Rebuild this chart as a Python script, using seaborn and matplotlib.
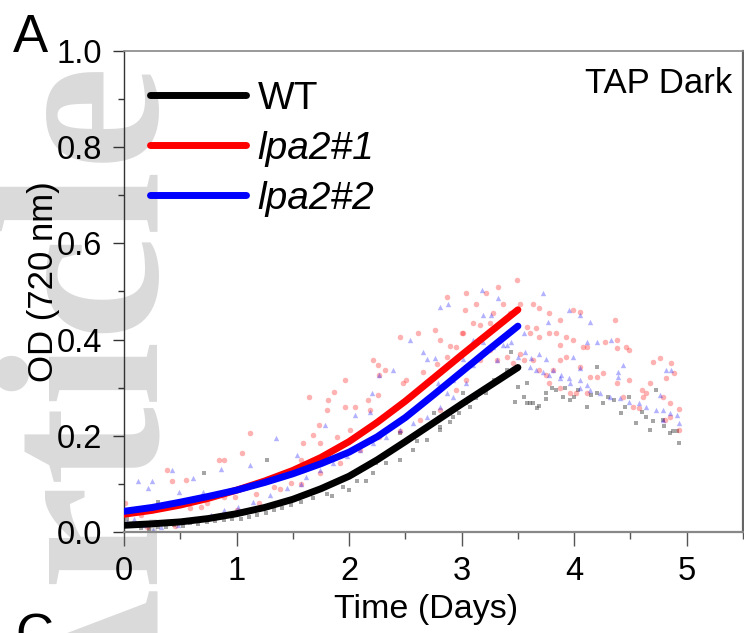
import numpy as np
import pandas as pd
import matplotlib
matplotlib.use("Agg")
import matplotlib.pyplot as plt
from matplotlib.ticker import MultipleLocator, FormatStrFormatter
import seaborn as sns

# ---------------- data ----------------
strains = ["WT", "lpa2#1", "lpa2#2"]
line_colors = ["#000000", "#ff0000", "#0000ff"]

fit_days = [0.0, 0.25, 0.5, 0.75, 1.0, 1.25, 1.5, 1.75, 2.0, 2.25, 2.5, 2.75, 3.0, 3.25, 3.5]
fit_wt = [0.014, 0.017, 0.021, 0.028, 0.038, 0.051, 0.068, 0.090, 0.116, 0.150, 0.188, 0.227, 0.266, 0.304, 0.342]
fit_lpa1 = [0.037, 0.045, 0.056, 0.070, 0.087, 0.106, 0.128, 0.155, 0.188, 0.228, 0.272, 0.320, 0.368, 0.415, 0.462]
fit_lpa2 = [0.043, 0.051, 0.062, 0.074, 0.087, 0.103, 0.121, 0.142, 0.166, 0.198, 0.238, 0.285, 0.333, 0.381, 0.428]

wt_x = [0.03, 0.09, 0.15, 0.22, 0.30, 0.37, 0.44, 0.52, 0.59, 0.66, 0.74, 0.81, 0.89, 0.96, 1.04, 1.11,
        1.18, 1.26, 1.33, 1.40, 1.48, 1.57, 1.68, 1.80, 1.95, 2.07, 2.21, 2.33, 2.45, 2.57, 2.69, 2.81,
        2.92, 3.04, 0.02, 0.30, 0.71, 1.27, 1.85, 2.00, 2.15, 2.24, 2.45, 2.60, 2.75, 2.81, 2.90, 2.98,
        3.01, 3.07, 3.13, 3.22, 3.29, 3.40, 3.44, 3.47, 3.50, 3.55, 3.58, 3.58, 3.61, 3.63, 3.67, 3.69,
        3.75, 3.75, 3.84, 3.90, 3.96, 4.03, 4.11, 4.20, 4.20, 4.26, 4.35, 4.42, 4.49, 4.55, 4.64, 4.67,
        4.73, 4.79, 4.85, 4.91, 4.93, 3.80, 3.92, 4.00, 4.15, 4.30, 4.45, 4.60, 4.70, 4.80, 4.88]
wt_y = [0.026, 0.012, 0.008, 0.006, 0.011, 0.010, 0.014, 0.013, 0.018, 0.017, 0.021, 0.022, 0.025, 0.027, 0.028, 0.032,
        0.035, 0.040, 0.046, 0.050, 0.056, 0.063, 0.070, 0.080, 0.094, 0.105, 0.122, 0.143, 0.150, 0.170, 0.191, 0.212,
        0.240, 0.268, 0.045, 0.063, 0.122, 0.150, 0.075, 0.088, 0.105, 0.143, 0.205, 0.190, 0.247, 0.219, 0.229, 0.247,
        0.288, 0.260, 0.278, 0.288, 0.316, 0.337, 0.375, 0.271, 0.302, 0.280, 0.309, 0.268, 0.268, 0.268, 0.257, 0.262,
        0.288, 0.276, 0.295, 0.281, 0.274, 0.295, 0.260, 0.288, 0.344, 0.268, 0.274, 0.247, 0.281, 0.226, 0.240, 0.212,
        0.295, 0.233, 0.205, 0.209, 0.186, 0.300, 0.300, 0.280, 0.285, 0.280, 0.260, 0.250, 0.230, 0.220, 0.210]

l1_x = [0.01, 0.05, 0.15, 0.30, 0.38, 0.43, 0.55, 0.59, 0.68, 0.74, 0.84, 0.89, 0.89, 0.99, 1.05, 1.12,
        1.17, 1.33, 1.39, 1.48, 1.57, 1.57, 0.20, 0.45, 0.80, 1.00, 1.20,
        1.59, 1.68, 1.73, 1.80, 1.87, 1.96, 1.64, 1.81, 1.96, 2.05, 2.17, 2.26, 2.19, 2.21, 2.26, 2.32,
        2.27, 2.45, 2.61, 2.76, 3.01, 2.48, 2.51, 2.66, 2.78, 2.87, 2.95, 1.74, 1.89, 2.01, 1.59, 1.74,
        1.92, 2.10, 2.27, 2.45, 2.63, 2.81, 2.95, 3.04,
        2.87, 3.04, 3.22, 3.32, 3.49, 3.03, 3.13, 3.37, 3.43, 3.52, 3.63, 3.69, 3.78, 3.87, 3.99, 4.05,
        2.81, 2.90, 3.00, 3.10, 3.16, 3.25, 3.28, 3.58, 3.61, 3.66, 3.69, 3.78, 3.84, 3.87, 3.93, 3.99,
        4.08, 4.11, 3.52, 3.55, 3.63, 3.69, 3.75, 3.81, 3.87, 3.93, 4.05, 3.25, 3.16, 3.31, 3.40, 3.46,
        4.36, 4.27, 4.38, 4.46, 4.38, 4.49, 4.14, 4.20, 4.26, 4.38, 4.49, 4.60, 4.67, 4.70, 4.76, 4.82,
        4.86, 4.89, 4.79, 4.85, 4.93, 4.93, 4.85, 4.81, 4.61, 4.52, 4.43, 4.58, 4.64, 4.11, 4.02, 3.96,
        3.87, 3.78]
l1_y = [0.060, 0.040, 0.035, 0.050, 0.129, 0.105, 0.108, 0.049, 0.053, 0.060, 0.150, 0.150, 0.073, 0.073, 0.164, 0.205,
        0.080, 0.094, 0.090, 0.101, 0.150, 0.100, 0.010, 0.012, 0.030, 0.045, 0.060,
        0.184, 0.202, 0.222, 0.254, 0.292, 0.316, 0.281, 0.274, 0.260, 0.260, 0.274, 0.285, 0.254, 0.358, 0.347, 0.337,
        0.326, 0.406, 0.413, 0.420, 0.413, 0.309, 0.316, 0.333, 0.350, 0.364, 0.385, 0.184, 0.198, 0.212, 0.129, 0.122,
        0.143, 0.170, 0.198, 0.210, 0.233, 0.254, 0.295, 0.316,
        0.489, 0.496, 0.496, 0.510, 0.524, 0.462, 0.475, 0.475, 0.455, 0.475, 0.475, 0.465, 0.455, 0.441, 0.462, 0.458,
        0.400, 0.386, 0.413, 0.434, 0.430, 0.434, 0.455, 0.427, 0.413, 0.425, 0.406, 0.413, 0.413, 0.389, 0.406, 0.400,
        0.385, 0.385, 0.371, 0.357, 0.357, 0.337, 0.327, 0.337, 0.357, 0.364, 0.344, 0.378, 0.357, 0.357, 0.364, 0.352,
        0.441, 0.396, 0.400, 0.385, 0.382, 0.378, 0.323, 0.323, 0.330, 0.309, 0.316, 0.295, 0.309, 0.354, 0.361, 0.320,
        0.351, 0.330, 0.281, 0.268, 0.255, 0.212, 0.240, 0.233, 0.281, 0.260, 0.281, 0.257, 0.290, 0.288, 0.290, 0.288,
        0.300, 0.310]

l2_x = [0.12, 0.25, 0.21, 0.43, 0.49, 0.61, 0.70, 0.86, 1.12, 1.35, 1.54, 0.09, 0.18, 0.33, 0.48, 0.62,
        0.77, 0.89, 1.01, 1.15, 1.30, 1.45, 1.57, 0.03, 0.26, 0.40, 0.55, 0.70,
        1.62, 1.74, 1.86, 1.98, 2.10, 2.21, 2.33, 2.45, 2.57, 2.69, 2.81, 2.92, 3.04, 1.79, 2.05, 2.20,
        2.19, 2.39, 2.27, 2.54, 2.66, 2.69, 2.76, 2.79, 2.87,
        2.88, 3.18, 3.32, 3.19, 3.26, 2.81, 3.72, 3.95, 4.05, 3.77, 3.55, 3.10, 3.19, 3.44, 3.37, 3.01,
        3.31, 3.50, 3.56, 3.62, 3.69, 3.75, 3.81, 3.88, 3.99, 4.05, 3.61, 3.66, 3.72, 3.78, 3.87, 3.95,
        4.05, 4.11, 2.92, 3.10, 3.28, 3.40,
        4.14, 4.11, 4.20, 4.33, 4.43, 4.39, 4.39, 4.82, 4.86, 3.96, 4.05, 4.14, 4.23, 4.32, 4.41, 4.49,
        4.58, 4.64, 4.73, 4.79, 4.85, 4.91, 4.93, 4.79, 4.76]
l2_y = [0.105, 0.105, 0.091, 0.129, 0.084, 0.112, 0.084, 0.132, 0.139, 0.195, 0.160, 0.028, 0.015, 0.011, 0.015, 0.028,
        0.035, 0.046, 0.053, 0.063, 0.077, 0.091, 0.100, 0.020, 0.005, 0.020, 0.022, 0.030,
        0.115, 0.129, 0.143, 0.157, 0.170, 0.184, 0.198, 0.212, 0.226, 0.240, 0.260, 0.281, 0.309, 0.222, 0.243, 0.288,
        0.250, 0.337, 0.326, 0.400, 0.375, 0.360, 0.361, 0.309, 0.290,
        0.475, 0.503, 0.486, 0.451, 0.451, 0.468, 0.496, 0.462, 0.451, 0.437, 0.413, 0.400, 0.396, 0.396, 0.389, 0.360,
        0.357, 0.364, 0.375, 0.361, 0.371, 0.360, 0.337, 0.327, 0.364, 0.340, 0.344, 0.337, 0.333, 0.327, 0.320, 0.320,
        0.316, 0.306, 0.316, 0.347, 0.385, 0.389,
        0.437, 0.396, 0.395, 0.400, 0.347, 0.333, 0.323, 0.337, 0.337, 0.309, 0.300, 0.295, 0.288, 0.281, 0.278, 0.271,
        0.268, 0.260, 0.253, 0.253, 0.247, 0.243, 0.226, 0.233, 0.285]

x_ticks = [0, 1, 2, 3, 4, 5]
y_ticks = [0.0, 0.2, 0.4, 0.6, 0.8, 1.0]

# ---------------- tables ----------------
fit_df = pd.concat([
    pd.DataFrame({"Day": fit_days, "OD": fit_wt, "Strain": strains[0]}),
    pd.DataFrame({"Day": fit_days, "OD": fit_lpa1, "Strain": strains[1]}),
    pd.DataFrame({"Day": fit_days, "OD": fit_lpa2, "Strain": strains[2]}),
], ignore_index=True)
wt_df = pd.DataFrame({"Day": wt_x, "OD": wt_y})
l1_df = pd.DataFrame({"Day": l1_x, "OD": l1_y})
l2_df = pd.DataFrame({"Day": l2_x, "OD": l2_y})

# ---------------- style ----------------
sns.set_style("ticks")
plt.rcParams["font.family"] = ["Liberation Sans", "DejaVu Sans"]
plt.rcParams["text.color"] = "black"
plt.rcParams["axes.labelcolor"] = "black"
plt.rcParams["xtick.labelcolor"] = "black"
plt.rcParams["ytick.labelcolor"] = "black"

W, H = 744, 633
fig = plt.figure(figsize=(W / 100, H / 100), dpi=100)
fig.patch.set_facecolor("white")

def fx(px):
    return px / W

def fy(py):
    return (H - py) / H

# watermark behind everything
fig.text(fx(-8), fy(62), "Article", rotation=90, rotation_mode="anchor",
         ha="right", va="top", fontsize=170, fontweight="bold", color="#dadada",
         family=["Liberation Serif", "DejaVu Serif"], zorder=-5)

ax = fig.add_axes([fx(124), fy(532), (743 - 124) / W, (532 - 51) / H])
ax.patch.set_alpha(0)
ax.set_zorder(1)

sns.scatterplot(data=wt_df, x="Day", y="OD", ax=ax, marker="s", color="#4d4d4d",
                alpha=0.5, s=9, linewidth=0, legend=False, zorder=2)
sns.scatterplot(data=l1_df, x="Day", y="OD", ax=ax, marker="o", color="#ff0000",
                alpha=0.3, s=16, linewidth=0, legend=False, zorder=2)
sns.scatterplot(data=l2_df, x="Day", y="OD", ax=ax, marker="^", color="#0000ff",
                alpha=0.3, s=15, linewidth=0, legend=False, zorder=2)
sns.lineplot(data=fit_df, x="Day", y="OD", hue="Strain", hue_order=strains,
             palette=dict(zip(strains, line_colors)), linewidth=5.0, ax=ax,
             zorder=3, solid_capstyle="round", solid_joinstyle="round")

ax.set_xlim(0, 5.5)
ax.set_ylim(0, 1.0)
ax.set_xticks(x_ticks)
ax.set_yticks(y_ticks)
ax.xaxis.set_minor_locator(MultipleLocator(0.5))
ax.yaxis.set_minor_locator(MultipleLocator(0.1))
ax.yaxis.set_major_formatter(FormatStrFormatter("%.1f"))

ax.tick_params(axis="both", which="major", labelsize=23.5, direction="out", labelcolor="black")
ax.tick_params(axis="y", which="major", length=8, width=1, pad=8, color="#333333")
ax.tick_params(axis="y", which="minor", length=4.5, width=1, color="#333333")
ax.tick_params(axis="x", which="major", length=10, width=1, pad=7, color="#555555")
ax.tick_params(axis="x", which="minor", length=5, width=1, color="#555555")

for side in ["top", "right", "bottom", "left"]:
    ax.spines[side].set_visible(True)
ax.spines["left"].set_color("#333333")
ax.spines["left"].set_linewidth(1.0)
ax.spines["bottom"].set_color("#888888")
ax.spines["bottom"].set_linewidth(1.6)
ax.spines["top"].set_color("#888888")
ax.spines["top"].set_linewidth(1.2)
ax.spines["right"].set_color("#666666")
ax.spines["right"].set_linewidth(1.6)

ax.set_xlabel("Time (Days)", fontsize=24.5, color="black")
ax.set_ylabel("OD (720 nm)", fontsize=25, color="black")
ax.xaxis.set_label_coords((426 - 124) / 619, (532 - 594) / 481)
ax.yaxis.set_label_coords((60 - 124) / 619, 0.52)

handles, labels = ax.get_legend_handles_labels()
leg = ax.legend(handles, labels, loc="upper left", bbox_to_anchor=(fx(150), fy(81)),
                bbox_transform=fig.transFigure, frameon=False, fontsize=28,
                handlelength=2.47, handletextpad=0.3, labelspacing=0.36,
                borderpad=0, borderaxespad=0)
for line in leg.get_lines():
    line.set_linewidth(5.0)
    line.set_solid_capstyle("round")
for t in leg.get_texts():
    t.set_color("black")
for t in leg.get_texts()[1:]:
    t.set_fontstyle("italic")

fig.text(fx(732), fy(93), "TAP Dark", ha="right", va="baseline", fontsize=25, color="black")
fig.text(fx(13), fy(52), "A", ha="left", va="baseline", fontsize=38, color="black")
fig.text(fx(15), fy(651), "C", ha="left", va="baseline", fontsize=38, color="black")

fig.savefig("out.png", dpi=100)
